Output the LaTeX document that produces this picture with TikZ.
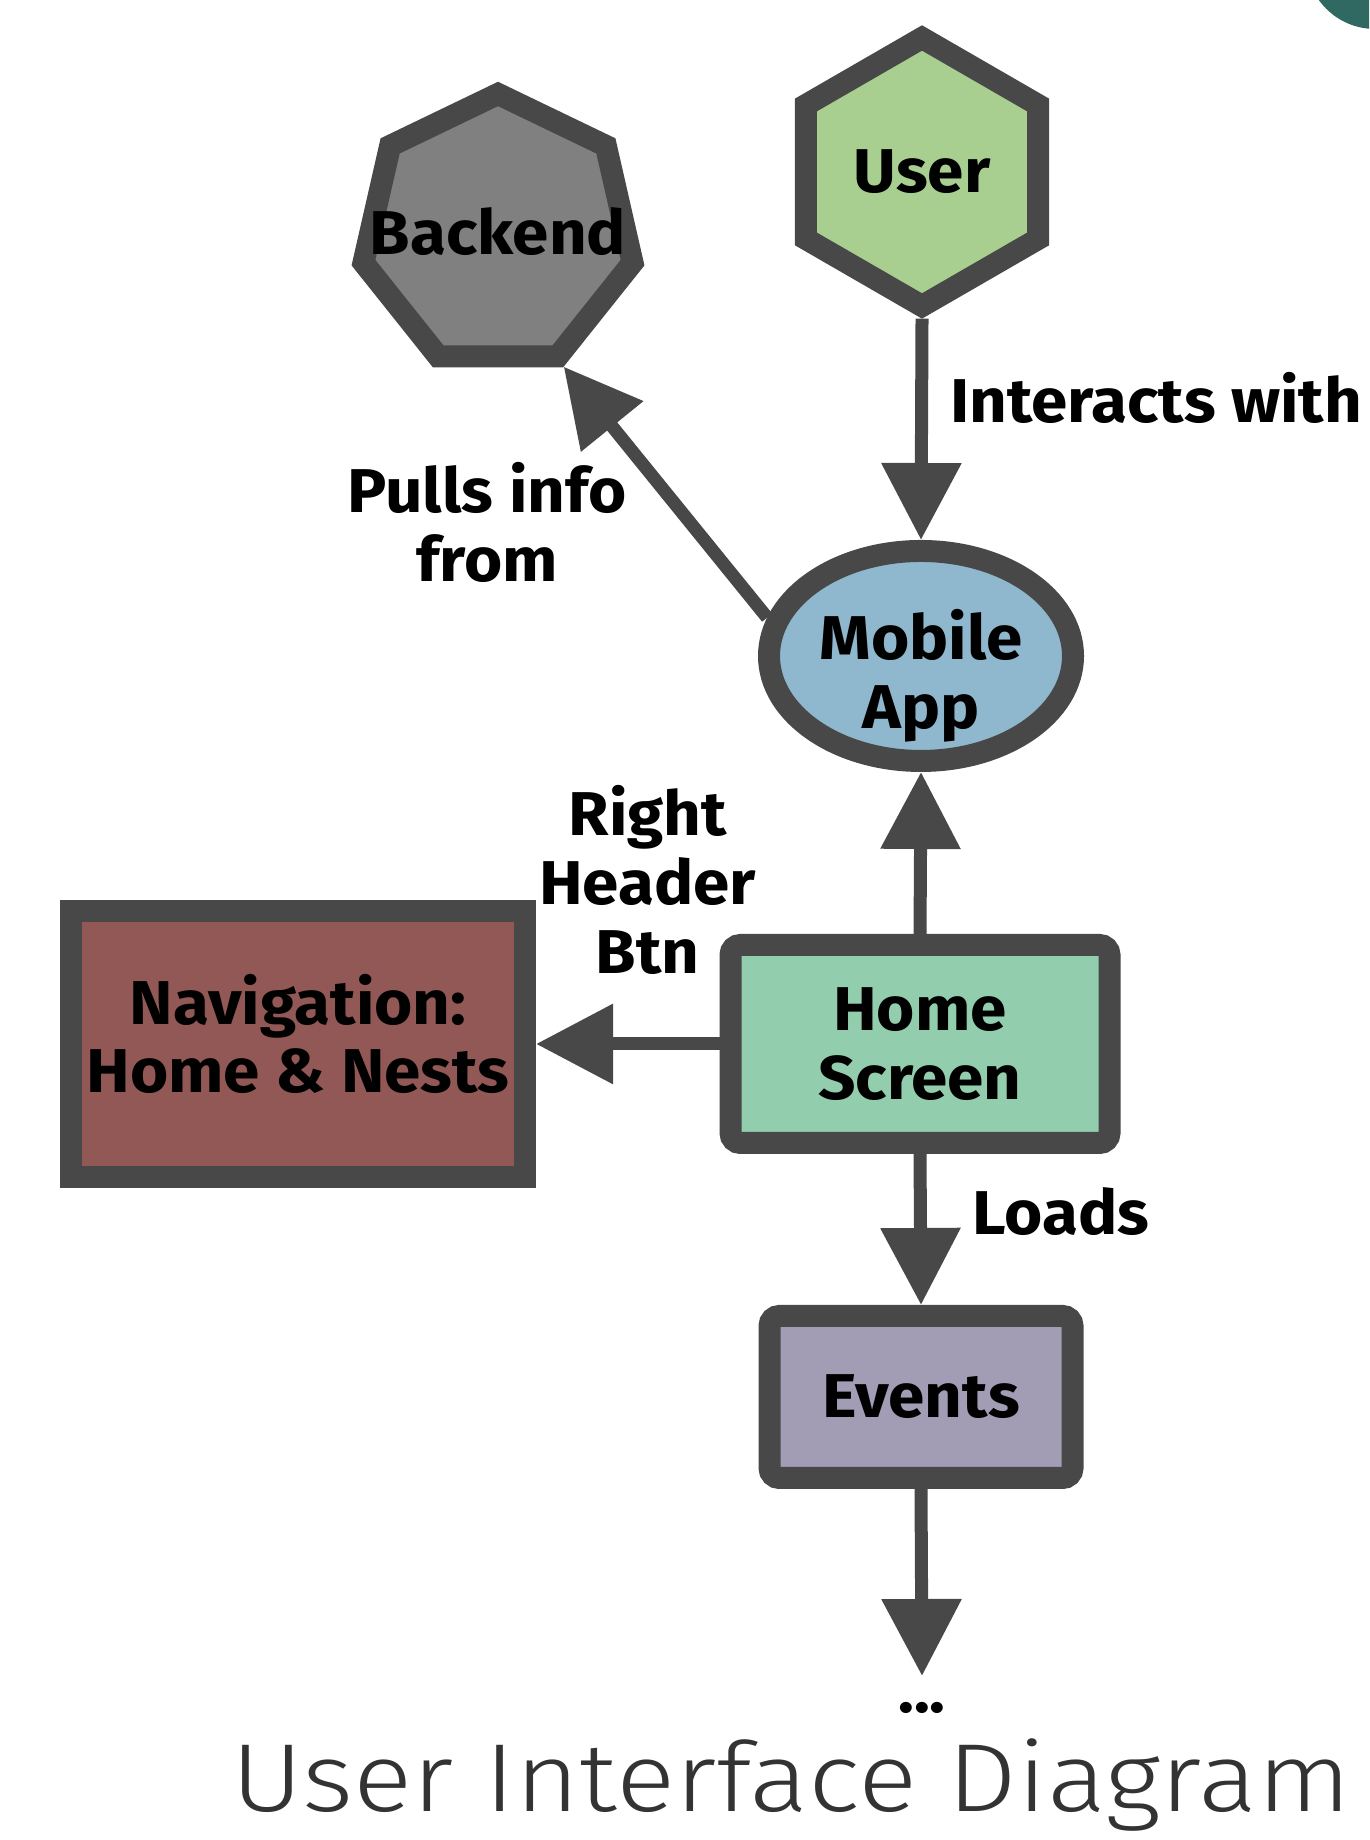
\documentclass[tikz,border=0pt]{standalone}
\usepackage{fontspec}
\setmainfont{Fira Sans}
\newfontfamily\uiface{Fira Sans}[FakeStretch=1.06]
\newfontfamily\titlefont{Fira Sans Light}[FakeStretch=1.14]
\usetikzlibrary{positioning,shapes.geometric,arrows.meta}
\definecolor{myedge}{RGB}{72,72,72}
\definecolor{mygreen}{RGB}{168,207,144}
\definecolor{mygrey}{RGB}{128,128,128}
\definecolor{myblue}{RGB}{143,183,205}
\definecolor{mymint}{RGB}{146,205,174}
\definecolor{mybrown}{RGB}{146,88,85}
\definecolor{mylilac}{RGB}{162,156,181}
\definecolor{myteal}{RGB}{47,105,98}
\definecolor{mytitle}{RGB}{51,51,51}
\newcommand{\uifont}{\uiface\bfseries\fontsize{17.6}{19.6}\selectfont}

\begin{document}
\begin{tikzpicture}[box/.style={draw=myedge,line width=0.22cm,inner sep=0pt,
  align=center,font=\uifont},
  poly/.style={box,regular polygon,inner sep=0pt},
  rbox/.style={box,rectangle,rounded corners=0.1cm},
  arr/.style={draw=myedge,line width=0.13cm,-{Triangle[length=0.77cm,width=0.77cm]}},
  lbl/.style={font=\uifont,inner sep=0pt,align=center}]

  \useasboundingbox (0,0) rectangle (13.69,18.40);
  \begin{scope}
    \clip (0,0) rectangle (13.69,18.40);
    \fill[myteal] (13.75,18.80) circle (0.69);
  \end{scope}

  \node (user) [poly,regular polygon sides=6,shape border rotate=30,
    minimum size=2.68cm,fill=mygreen] at (9.22,16.68) {User};
  \node (backend) [poly,regular polygon sides=7,minimum size=2.76cm,
    fill=mygrey,label={[lbl]center:Backend}] at (4.98,16.08) {};
  \node (app) [box,ellipse,minimum width=3.04cm,minimum height=2.10cm,
    fill=myblue,label={[lbl,yshift=-0.2cm]center:Mobile\\App}] at (9.21,11.84) {};
  \node (home) [rbox,minimum width=3.79cm,minimum height=1.98cm,
    fill=mymint] at (9.20,7.96) {Home\\Screen};
  \node (nav) [box,rectangle,minimum width=4.54cm,minimum height=2.66cm,
    fill=mybrown,label={[lbl,yshift=0.1cm]center:Navigation:\\Home \& Nests}] at (2.98,7.96) {};
  \node (events) [rbox,minimum width=3.03cm,minimum height=1.62cm,
    fill=mylilac] at (9.21,4.43) {Events};
  \coordinate (more) at (9.22,1.64);
  \node (dots) [lbl,below=0.26cm of more] {...};

  \node (title) [anchor=base,inner sep=0pt,text=mytitle,
    font=\titlefont\fontsize{27.5}{33}\selectfont] at (7.91,0.28) {User Interface Diagram};

  \draw[arr] (user.south) -- (app.north)
    node[lbl,pos=0.36,right=0.22cm] {Interacts with};
  \draw[arr] (app.166) -- (backend.-64)
    node[lbl,pos=0.38,left=0.57cm] {Pulls info\\from};
  \draw[arr] (home.north) -- (app.south);
  \draw[arr] (home.west) -- (nav.east)
    node[lbl,midway,above=0.63cm,xshift=0.2cm] {Right\\Header\\Btn};
  \draw[arr] (home.south) -- (events.north)
    node[lbl,pos=0.38,right=0.46cm] {Loads};
  \draw[arr] (events.south) -- (more);
\end{tikzpicture}
\end{document}
